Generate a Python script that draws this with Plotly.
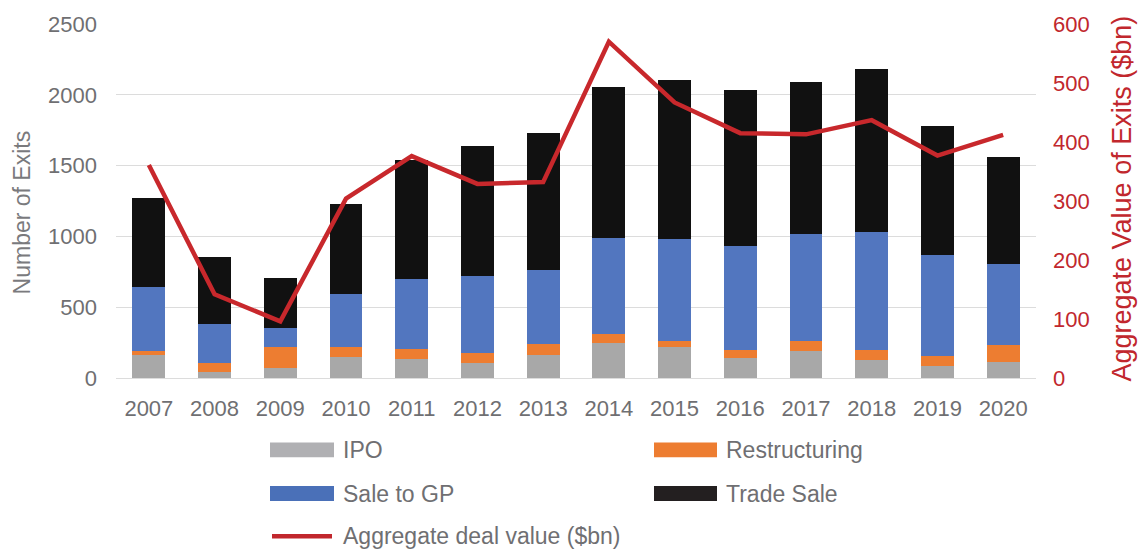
import plotly.graph_objects as go

years = ["2007", "2008", "2009", "2010", "2011", "2012", "2013",
         "2014", "2015", "2016", "2017", "2018", "2019", "2020"]
ipo = [159, 42, 73, 147, 131, 108, 164, 248, 217, 140, 194, 124, 87, 115]
restructuring = [30, 66, 144, 75, 77, 70, 74, 65, 42, 56, 65, 75, 65, 116]
sale_to_gp = [456, 273, 136, 374, 488, 539, 526, 675, 725, 739, 760, 831, 715, 571]
trade_sale = [628, 477, 350, 635, 841, 918, 967, 1065, 1118, 1100, 1074, 1154, 916, 759]
deal_value = [361, 142, 96, 304, 376, 329, 332, 570, 467, 415, 413, 437, 377, 412]

W, H = 1141, 551
L, R, T, B = 116, 1036, 21, 378  # plot area in pixels

def px(x):
    return (x - L) / (R - L)

def py(y):
    return (B - y) / (B - T)

FONT = "Liberation Sans, Arial, sans-serif"
GRAY_TXT = "#6f6f72"
RED = "#C1272D"

fig = go.Figure()
for name, vals, col in [("IPO", ipo, "#A8A8A8"),
                        ("Restructuring", restructuring, "#ED7D31"),
                        ("Sale to GP", sale_to_gp, "#5276BF"),
                        ("Trade Sale", trade_sale, "#111111")]:
    fig.add_trace(go.Bar(x=years, y=vals, name=name, marker=dict(color=col, line=dict(width=0)),
                         showlegend=False))

fig.add_trace(go.Scatter(x=years, y=deal_value, name="Aggregate deal value ($bn)", yaxis="y2",
                         mode="lines", line=dict(color="#C8282C", width=4.5), showlegend=False))

# custom legend
shapes = []
annotations = []
legend_items = [
    ("IPO", "#B0B0B3", 270, 334, 450.5, "rect"),
    ("Restructuring", "#ED7D31", 654, 717, 450.5, "rect"),
    ("Sale to GP", "#4A70B8", 270, 334, 494.5, "rect"),
    ("Trade Sale", "#231F20", 654, 717, 494.5, "rect"),
    ("Aggregate deal value ($bn)", RED, 270, 334, 537.5, "line"),
]
for label, col, x0, x1, yc, kind in legend_items:
    if kind == "rect":
        shapes.append(dict(type="rect", xref="paper", yref="paper",
                           x0=px(x0), x1=px(x1), y0=py(yc + 7.5), y1=py(yc - 7.5),
                           fillcolor=col, line=dict(width=0)))
    else:
        shapes.append(dict(type="line", xref="paper", yref="paper",
                           x0=px(x0 + 2), x1=px(x1 - 2), y0=py(yc), y1=py(yc),
                           line=dict(color=col, width=4.5)))
    annotations.append(dict(text=label, xref="paper", yref="paper", x=px(x1 + 7), y=py(yc),
                            xanchor="left", yanchor="middle", showarrow=False,
                            font=dict(family=FONT, size=23, color=GRAY_TXT)))

annotations.append(dict(text="Number of Exits", xref="paper", yref="paper", x=px(22), y=py(211),
                        textangle=-90, xanchor="center", yanchor="middle", showarrow=False,
                        font=dict(family=FONT, size=23, color="#7a7a7d")))
annotations.append(dict(text="Aggregate Value of Exits ($bn)", xref="paper", yref="paper",
                        x=px(1122), y=py(197), textangle=-90, xanchor="center", yanchor="middle",
                        showarrow=False, font=dict(family=FONT, size=27, color=RED)))

fig.update_layout(
    width=W, height=H,
    margin=dict(l=L, r=W - R, t=T, b=H - B, pad=0),
    barmode="stack", bargap=0.5,
    plot_bgcolor="white", paper_bgcolor="white",
    font=dict(family=FONT, size=22, color=GRAY_TXT),
    xaxis=dict(type="category", showgrid=False, showline=False, ticks="",
               tickfont=dict(size=22, color=GRAY_TXT), ticklabelstandoff=15),
    yaxis=dict(range=[0, 2500], dtick=500, showgrid=True, gridcolor="#dcdcdc", gridwidth=1,
               zeroline=True, zerolinecolor="#dcdcdc", zerolinewidth=1, showline=False,
               tickfont=dict(size=22, color=GRAY_TXT), ticklabelstandoff=18),
    yaxis2=dict(range=[0, 600], dtick=100, overlaying="y", side="right", showgrid=False,
                zeroline=False, showline=False,
                tickfont=dict(size=22, color=RED), ticklabelstandoff=16),
    shapes=shapes, annotations=annotations, showlegend=False,
)

fig.write_html("out.html", config={"displayModeBar": False},
               post_script="document.body.style.margin='0';document.body.style.overflow='hidden';")
